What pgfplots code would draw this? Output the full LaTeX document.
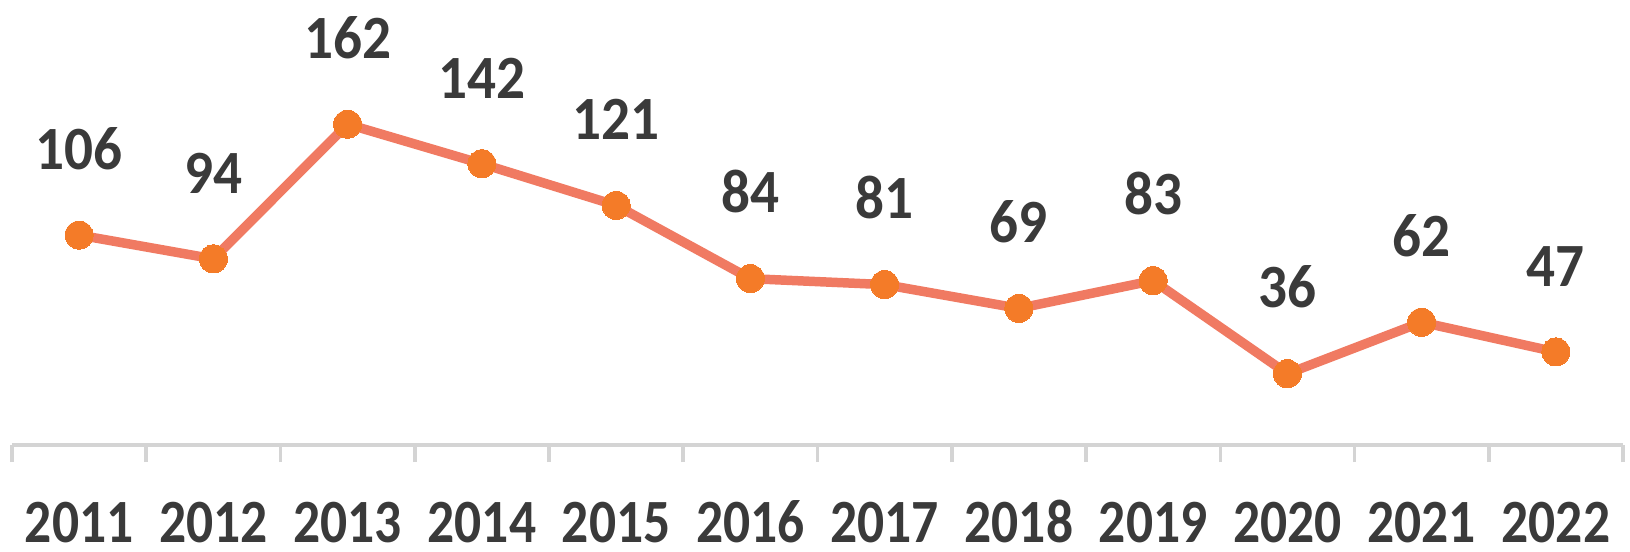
\documentclass[border=0pt]{standalone}
\usepackage{fontspec}
\setmainfont[FakeStretch=0.87]{Carlito}
\newfontfamily\lblfont[FakeStretch=0.93]{Carlito}
\usepackage{pgfplots}
\pgfplotsset{compat=1.18}
\definecolor{linec}{HTML}{F07A62}
\definecolor{markc}{HTML}{F47B28}
\definecolor{txt}{HTML}{3A3A3A}
\definecolor{axc}{HTML}{D4D4D4}
\begin{document}
\begin{tikzpicture}
\begin{axis}[
  scale only axis, width=16.11cm, height=4.45cm,
  xmin=0.5, xmax=12.5, ymin=0, ymax=224.7,
  axis y line=none, axis x line*=bottom,
  x axis line style={-, draw=axc, line width=1pt},
  xtick={1,2,3,4,5,6,7,8,9,10,11,12},
  xticklabels={2011,2012,2013,2014,2015,2016,2017,2018,2019,2020,2021,2022},
  major tick length=0pt,
  minor xtick={0.5,1.5,2.5,3.5,4.5,5.5,6.5,7.5,8.5,9.5,10.5,11.5,12.5},
  minor tick length=1.7mm,
  minor x tick style={draw=axc, line width=1pt},
  tick align=outside,
  xticklabel style={anchor=base, yshift=-9.75mm, inner sep=0pt,
    font=\fontsize{17.5}{20}\selectfont\bfseries, text=txt},
  /pgf/number format/assume math mode=true,
  nodes near coords,
  nodes near coords style={anchor=south, inner sep=0pt, yshift=6.55mm,
    font=\lblfont\fontsize{17.5}{20}\selectfont\bfseries, text=txt},
  clip=false,
]
\addplot[color=linec, line width=2.7pt, mark=*, mark size=4pt,
  mark options={fill=markc, draw=markc, line width=0pt}]
  coordinates {(1,106) (2,94) (3,162) (4,142) (5,121) (6,84) (7,81) (8,69) (9,83) (10,36) (11,62) (12,47)};
\end{axis}
\path ([xshift=-0.12cm,yshift=-1.06cm]current axis.south west) rectangle ([xshift=0.07cm]current axis.north east);
\end{tikzpicture}
\end{document}
